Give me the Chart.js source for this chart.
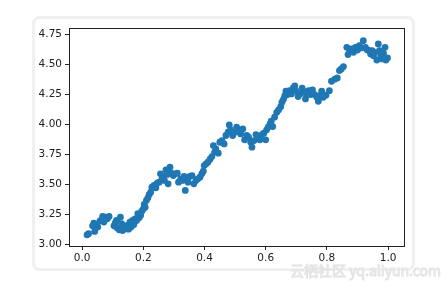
<!DOCTYPE html>
<html>
<head>
<meta charset="utf-8">
<title>scatter</title>
<script src="https://cdn.jsdelivr.net/npm/chart.js@4.4.1/dist/chart.umd.min.js"></script>
<style>
  body { margin: 0; background: #fff; }
  #wrap { width: 447px; height: 290px; }
</style>
</head>
<body>
<div id="wrap"><canvas id="scatter" width="447" height="290"></canvas></div>
<script>
var xValues = [
  0.016, 0.021, 0.034, 0.038, 0.041, 0.047, 0.051, 0.058, 0.063, 0.067, 0.071, 0.077, 0.082, 0.088,
  0.104, 0.108, 0.112, 0.114, 0.121, 0.125, 0.129, 0.132, 0.136, 0.143, 0.147, 0.152, 0.156, 0.160,
  0.165, 0.169, 0.173, 0.178, 0.182, 0.186, 0.191, 0.195, 0.200, 0.203, 0.206, 0.210, 0.215, 0.219,
  0.224, 0.228, 0.235, 0.241, 0.245, 0.252, 0.256, 0.261, 0.265, 0.269, 0.274, 0.278, 0.281, 0.287,
  0.291, 0.298, 0.304, 0.311, 0.315, 0.322, 0.328, 0.333, 0.337, 0.341, 0.346, 0.352, 0.359, 0.365,
  0.372, 0.378, 0.385, 0.391, 0.396, 0.399, 0.405, 0.411, 0.418, 0.424, 0.429, 0.433, 0.437, 0.445,
  0.450, 0.457, 0.464, 0.470, 0.477, 0.481, 0.485, 0.492, 0.499, 0.505, 0.512, 0.518, 0.525, 0.531,
  0.538, 0.544, 0.551, 0.555, 0.562, 0.568, 0.575, 0.581, 0.588, 0.594, 0.600, 0.603, 0.608, 0.614,
  0.618, 0.623, 0.629, 0.636, 0.642, 0.649, 0.653, 0.658, 0.662, 0.666, 0.671, 0.677, 0.684, 0.690,
  0.695, 0.699, 0.706, 0.712, 0.719, 0.725, 0.730, 0.734, 0.740, 0.747, 0.753, 0.760, 0.767, 0.772,
  0.778, 0.783, 0.788, 0.797, 0.808, 0.815, 0.826, 0.834, 0.841, 0.847, 0.854, 0.865, 0.869, 0.874,
  0.880, 0.887, 0.893, 0.900, 0.906, 0.913, 0.919, 0.926, 0.932, 0.939, 0.943, 0.948, 0.952, 0.957,
  0.963, 0.968, 0.972, 0.976, 0.980, 0.985, 0.990, 0.993, 0.998
];
var yValues = [
  3.080, 3.089, 3.155, 3.177, 3.108, 3.166, 3.144, 3.194, 3.205, 3.233, 3.186, 3.227, 3.213, 3.233,
  3.155, 3.177, 3.199, 3.138, 3.122, 3.227, 3.172, 3.116, 3.144, 3.130, 3.158, 3.127, 3.186, 3.144,
  3.199, 3.166, 3.213, 3.199, 3.255, 3.222, 3.241, 3.277, 3.296, 3.332, 3.310, 3.366, 3.388, 3.415,
  3.435, 3.476, 3.490, 3.471, 3.510, 3.518, 3.587, 3.546, 3.565, 3.532, 3.620, 3.582, 3.504, 3.642,
  3.593, 3.573, 3.587, 3.593, 3.518, 3.546, 3.532, 3.565, 3.449, 3.554, 3.518, 3.565, 3.573, 3.504,
  3.532, 3.546, 3.559, 3.587, 3.609, 3.656, 3.670, 3.684, 3.709, 3.731, 3.822, 3.767, 3.795, 3.759,
  3.850, 3.864, 3.836, 3.906, 3.933, 3.994, 3.953, 3.906, 3.933, 3.975, 3.942, 3.919, 3.961, 3.870,
  3.906, 3.892, 3.850, 3.809, 3.864, 3.914, 3.886, 3.870, 3.914, 3.925, 3.870, 3.953, 3.975, 4.002,
  4.025, 3.980, 4.058, 4.099, 4.119, 4.146, 4.183, 4.207, 4.235, 4.274, 4.246, 4.279, 4.252, 4.302,
  4.318, 4.274, 4.230, 4.252, 4.299, 4.266, 4.210, 4.246, 4.279, 4.246, 4.285, 4.246, 4.224, 4.191,
  4.238, 4.274, 4.224, 4.241, 4.279, 4.357, 4.374, 4.385, 4.446, 4.459, 4.479, 4.639, 4.579, 4.612,
  4.626, 4.598, 4.639, 4.617, 4.653, 4.634, 4.695, 4.639, 4.617, 4.612, 4.584, 4.612, 4.570, 4.598,
  4.534, 4.667, 4.612, 4.570, 4.543, 4.590, 4.639, 4.534, 4.551
];
var xTicks = [0.0, 0.2, 0.4, 0.6, 0.8, 1.0];
var yTicks = [3.00, 3.25, 3.50, 3.75, 4.00, 4.25, 4.50, 4.75];
var watermark = '云栖社区 yq.aliyun.com';

var points = xValues.map(function(x, i){ return {x: x, y: yValues[i]}; });

// outer rounded box + axes frame + watermark
var frame = {
  id: 'frame',
  beforeDraw: function(chart){
    var ctx = chart.ctx;
    ctx.save();
    ctx.strokeStyle = '#f0f0f0';
    ctx.lineWidth = 3;
    ctx.beginPath();
    ctx.roundRect(33.5, 17.5, 380, 252, 6);
    ctx.stroke();
    ctx.restore();
  },
  afterDatasetsDraw: function(chart){
    var a = chart.chartArea, ctx = chart.ctx;
    ctx.save();
    ctx.strokeStyle = '#222';
    ctx.lineWidth = 1;
    ctx.strokeRect(Math.round(a.left) + 0.5, Math.round(a.top) + 0.5,
      Math.round(a.right - a.left), Math.round(a.bottom - a.top));
    ctx.restore();
  },
  afterDraw: function(chart){
    var ctx = chart.ctx;
    ctx.save();
    ctx.font = '14px "Noto Sans CJK SC", "DejaVu Sans", sans-serif';
    ctx.textBaseline = 'alphabetic';
    ctx.lineWidth = 1;
    ctx.strokeStyle = '#e4e4e4';
    ctx.fillStyle = '#f8f8f8';
    ctx.fillText(watermark, 290, 276);
    ctx.strokeText(watermark, 290, 276);
    ctx.restore();
  }
};

function fixedTicks(list){
  return function(scale){
    scale.ticks = list.map(function(v){ return {value: v}; });
  };
}

new Chart(document.getElementById('scatter'), {
  type: 'scatter',
  data: {
    datasets: [{
      data: points,
      backgroundColor: '#1f77b4',
      borderWidth: 0,
      pointRadius: 3.4,
      pointHoverRadius: 3.4
    }]
  },
  options: {
    responsive: false,
    animation: false,
    events: [],
    layout: { padding: { left: 0, top: 28, right: 43, bottom: 0 } },
    plugins: { legend: { display: false }, tooltip: { enabled: false } },
    scales: {
      x: {
        type: 'linear',
        min: -0.043,
        max: 1.052,
        afterBuildTicks: fixedTicks(xTicks),
        afterFit: function(scale){ scale.height = 44; },
        border: { display: false },
        grid: { drawOnChartArea: false, drawTicks: true, tickLength: 4, color: '#222' },
        ticks: {
          padding: 2,
          color: '#222',
          font: { family: 'DejaVu Sans', size: 10.5 },
          maxRotation: 0,
          callback: function(v){ return v.toFixed(1); }
        }
      },
      y: {
        type: 'linear',
        min: 2.987,
        max: 4.80,
        afterBuildTicks: fixedTicks(yTicks),
        afterFit: function(scale){ scale.width = 69; },
        border: { display: false },
        grid: { drawOnChartArea: false, drawTicks: true, tickLength: 4, color: '#222' },
        ticks: {
          padding: 3,
          color: '#222',
          font: { family: 'DejaVu Sans', size: 10.5 },
          callback: function(v){ return v.toFixed(2); }
        }
      }
    }
  },
  plugins: [frame]
});
</script>
</body>
</html>
